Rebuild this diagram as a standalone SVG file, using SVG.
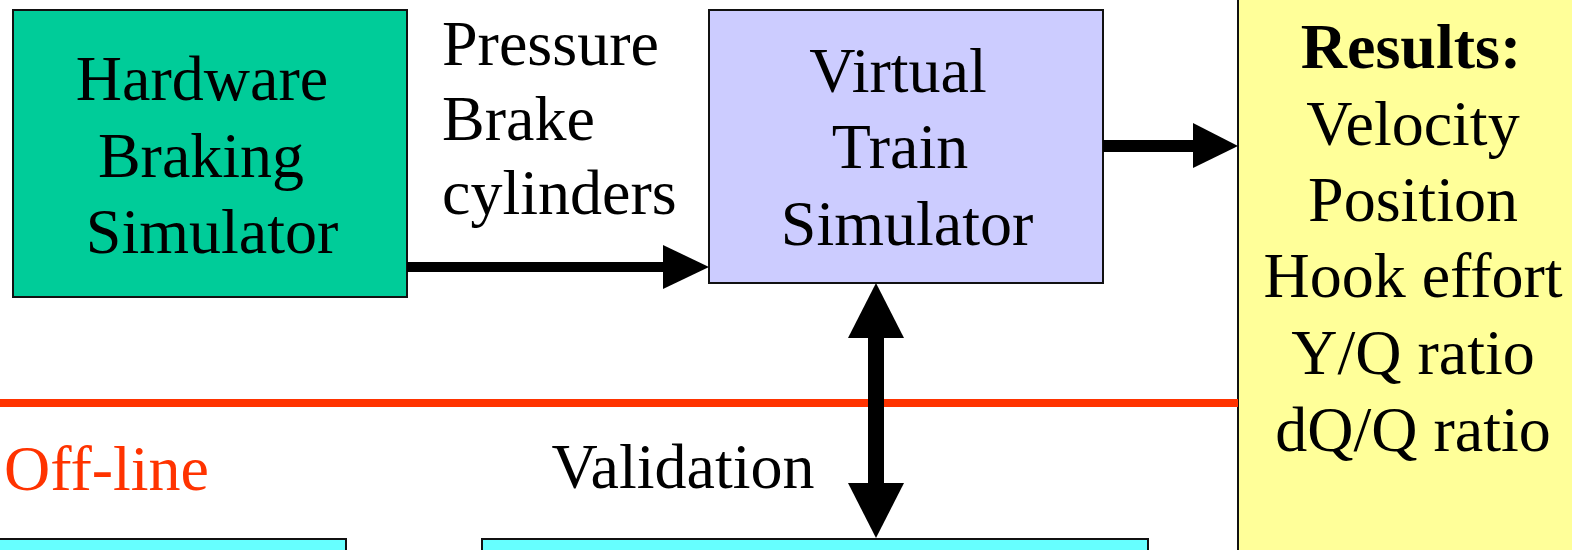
<svg xmlns="http://www.w3.org/2000/svg" width="1572" height="550" viewBox="0 0 1572 550">
  <style>
    .box { stroke: #111; stroke-width: 2; }
    .t { font-family: "Liberation Serif", "Times New Roman", serif; font-size: 64px; fill: #000; text-anchor: middle; }
    .left { text-anchor: start; }
    .red { fill: #FF3300; }
    .arrow { fill: #000; stroke: none; }
  </style>
  <rect width="1572" height="550" fill="#fff"/>

  <!-- results panel (runs off the right, top and bottom edges) -->
  <g id="results">
    <rect class="box" x="1238" y="-5" width="345" height="565" fill="#FFFF99"/>
    <text class="t" x="1411" y="68" font-weight="bold">Results:</text>
    <text class="t" x="1413" y="145">Velocity</text>
    <text class="t" x="1413" y="221">Position</text>
    <text class="t" x="1413" y="297">Hook effort</text>
    <text class="t" x="1413" y="374">Y/Q ratio</text>
    <text class="t" x="1413" y="451">dQ/Q ratio</text>
  </g>

  <g id="hardware-braking-simulator">
    <rect class="box" x="13" y="10" width="394" height="287" fill="#00CC99"/>
    <text class="t" x="202" y="100">Hardware</text>
    <text class="t" x="201" y="177">Braking</text>
    <text class="t" x="212" y="253">Simulator</text>
  </g>

  <g id="virtual-train-simulator">
    <rect class="box" x="709" y="10" width="394" height="273" fill="#CCCCFF"/>
    <text class="t" x="898" y="92">Virtual</text>
    <text class="t" x="900" y="168">Train</text>
    <text class="t" x="907" y="245">Simulator</text>
  </g>

  <!-- off-line models along the bottom edge -->
  <g id="offline-model-a">
    <rect class="box" x="-5" y="539" width="351" height="30" fill="#66FFFF"/>
  </g>
  <g id="offline-model-b">
    <rect class="box" x="482" y="539" width="666" height="30" fill="#66FFFF"/>
  </g>

  <!-- on-line / off-line separator -->
  <g id="separator">
    <rect x="0" y="399" width="1238" height="8" fill="#FF3300"/>
    <text class="t left red" x="4" y="490">Off-line</text>
  </g>

  <g id="connectors">
    <!-- braking simulator to train simulator -->
    <rect class="arrow" x="407" y="262" width="257" height="10"/>
    <polygon class="arrow" points="663,245 709,267 663,289"/>
    <!-- train simulator to results -->
    <rect class="arrow" x="1103" y="140" width="91" height="12"/>
    <polygon class="arrow" points="1193,123 1238,146 1193,168"/>
    <!-- validation link -->
    <rect class="arrow" x="868" y="337" width="16" height="147"/>
    <polygon class="arrow" points="876,283 848,338 904,338"/>
    <polygon class="arrow" points="848,483 904,483 876,538"/>
  </g>

  <g id="labels">
    <text class="t left" x="442" y="65">Pressure</text>
    <text class="t left" x="442" y="140">Brake</text>
    <text class="t left" x="442" y="214">cylinders</text>
    <text class="t" x="683" y="488">Validation</text>
  </g>
</svg>
